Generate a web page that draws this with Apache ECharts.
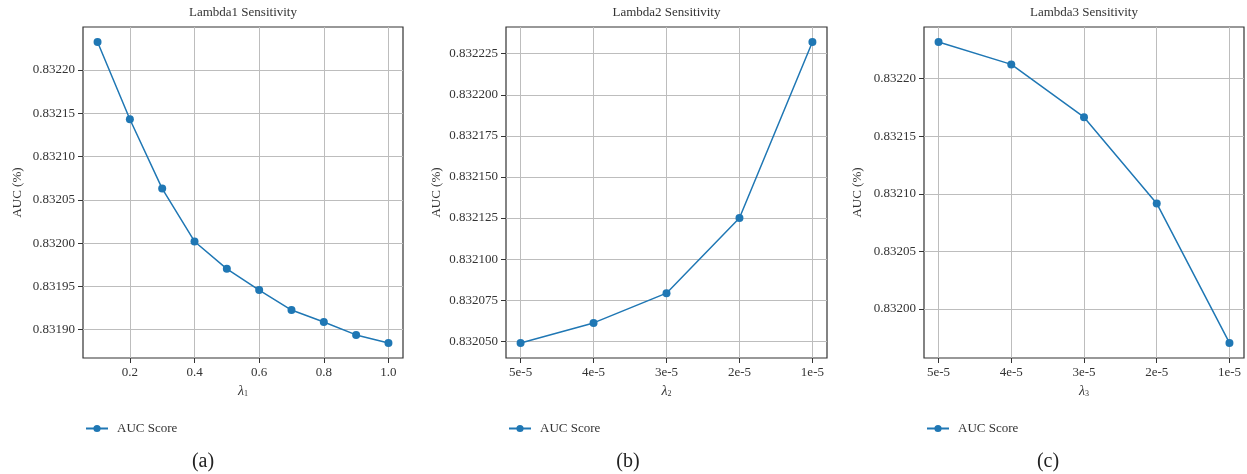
<!DOCTYPE html>
<html>
<head>
<meta charset="utf-8">
<script src="https://cdn.jsdelivr.net/npm/echarts@6/dist/echarts.min.js"></script>
<style>
html,body{margin:0;padding:0;background:#fff;}
#chart{width:1247px;height:474px;}
</style>
</head>
<body>
<div id="chart"></div>
<script>
// ---- data ----
const lambda1Values = [0.1, 0.2, 0.3, 0.4, 0.5, 0.6, 0.7, 0.8, 0.9, 1.0];
const auc1 = [0.8322324, 0.8321431, 0.8320630, 0.8320019, 0.8319703, 0.8319457, 0.8319226, 0.8319089, 0.8318939, 0.8318846];

const lambda2Labels = ['5e-5', '4e-5', '3e-5', '2e-5', '1e-5'];
const auc2 = [0.8320490, 0.8320612, 0.8320793, 0.8321250, 0.8322321];

const lambda3Labels = ['5e-5', '4e-5', '3e-5', '2e-5', '1e-5'];
const auc3 = [0.8322318, 0.8322124, 0.8321665, 0.8320916, 0.8319704];

const xTicks1 = [0.2, 0.4, 0.6, 0.8, 1.0];
const yTicks1 = [0.83190, 0.83195, 0.83200, 0.83205, 0.83210, 0.83215, 0.83220];
const yTicks2 = [0.832050, 0.832075, 0.832100, 0.832125, 0.832150, 0.832175, 0.832200, 0.832225];
const yTicks3 = [0.83200, 0.83205, 0.83210, 0.83215, 0.83220];

const titles = ['Lambda1 Sensitivity', 'Lambda2 Sensitivity', 'Lambda3 Sensitivity'];
const captions = ['(a)', '(b)', '(c)'];
const seriesName = 'AUC Score';
const yName = 'AUC (%)';

// ---- helpers ----
const FONT = 'Liberation Serif';
const BLUE = '#1f77b4';
function pad(arr) {
  const mn = Math.min(...arr), mx = Math.max(...arr);
  const d = (mx - mn) * 0.05;
  return [mn - d, mx + d];
}
const grids = [
  {left: 83, top: 27, width: 320, height: 331},
  {left: 506, top: 27, width: 321, height: 331},
  {left: 924, top: 27, width: 320, height: 331}
];
const nameGaps = [59, 63, 60];

function xAxisBase(i) {
  return {
    gridIndex: i,
    type: 'value',
    position: 'bottom',
    name: '{i|λ}{s|' + (i + 1) + '}',
    nameLocation: 'middle',
    nameGap: 25,
    nameTextStyle: {
      fontFamily: FONT, color: '#333',
      rich: {
        i: {fontFamily: FONT, fontStyle: 'italic', fontSize: 14, color: '#333'},
        s: {fontFamily: FONT, fontSize: 8, color: '#333', padding: [7, 0, 0, 0]}
      }
    },
    axisLine: {show: false, onZero: false},
    axisTick: {show: true, length: 5, lineStyle: {color: '#333', width: 1}},
    axisLabel: {fontFamily: FONT, fontSize: 13, color: '#333', margin: 8},
    splitLine: {show: true, lineStyle: {color: '#bdbdbd', width: 1}}
  };
}
function yAxisBase(i, ticks, digits, data) {
  const ext = pad(data);
  return {
    gridIndex: i,
    type: 'value',
    position: 'left',
    min: ext[0], max: ext[1],
    name: yName,
    nameLocation: 'middle',
    nameGap: nameGaps[i],
    nameRotate: 90,
    nameTextStyle: {fontFamily: FONT, fontSize: 13, color: '#333'},
    axisLine: {show: false, onZero: false},
    axisTick: {show: true, length: 5, customValues: ticks, lineStyle: {color: '#333', width: 1}},
    axisLabel: {fontFamily: FONT, fontSize: 13, color: '#333', margin: 8,
      customValues: ticks, formatter: v => Number(v).toFixed(digits)},
    splitLine: {show: true, lineStyle: {color: '#bdbdbd', width: 1}}
  };
}

const idx2 = lambda2Labels.map((_, i) => i);
const idx3 = lambda3Labels.map((_, i) => i);

const xAxes = [];
{
  const a = xAxisBase(0);
  const e = pad(lambda1Values);
  a.min = e[0]; a.max = e[1];
  a.axisTick.customValues = xTicks1;
  a.axisLabel.customValues = xTicks1;
  a.axisLabel.formatter = v => Number(v).toFixed(1);
  xAxes.push(a);
}
{
  const a = xAxisBase(1);
  const e = pad(idx2);
  a.min = e[0]; a.max = e[1];
  a.axisTick.customValues = idx2;
  a.axisLabel.customValues = idx2;
  a.axisLabel.formatter = v => lambda2Labels[Math.round(v)];
  xAxes.push(a);
}
{
  const a = xAxisBase(2);
  const e = pad(idx3);
  a.min = e[0]; a.max = e[1];
  a.axisTick.customValues = idx3;
  a.axisLabel.customValues = idx3;
  a.axisLabel.formatter = v => lambda3Labels[Math.round(v)];
  xAxes.push(a);
}

const yAxes = [
  yAxisBase(0, yTicks1, 5, auc1),
  yAxisBase(1, yTicks2, 6, auc2),
  yAxisBase(2, yTicks3, 5, auc3)
];

function lineSeries(i, data) {
  return {
    name: seriesName,
    type: 'line',
    xAxisIndex: i, yAxisIndex: i,
    data: data,
    symbol: 'circle',
    symbolSize: 8,
    showSymbol: true,
    lineStyle: {color: BLUE, width: 1.5},
    itemStyle: {color: BLUE},
    emphasis: {disabled: true},
    animation: false
  };
}

const series = [
  lineSeries(0, lambda1Values.map((x, i) => [x, auc1[i]])),
  lineSeries(1, idx2.map((x, i) => [x, auc2[i]])),
  lineSeries(2, idx3.map((x, i) => [x, auc3[i]]))
];

const legendLefts = [80, 503, 921];
const legends = legendLefts.map(l => ({
  left: l, top: 417,
  data: [seriesName],
  selectedMode: false,
  itemWidth: 22, itemHeight: 9,
  itemGap: 10,
  textStyle: {fontFamily: FONT, fontSize: 13, color: '#333', padding: [0, 0, 0, 4]}
}));

const graphics = [];
grids.forEach((g, i) => {
  graphics.push({
    type: 'text',
    x: g.left + g.width / 2, y: 13,
    style: {text: titles[i], font: '13px "' + FONT + '"', fill: '#333', textAlign: 'center', textVerticalAlign: 'middle'}
  });
});
const capX = [203, 628, 1048];
captions.forEach((c, i) => {
  graphics.push({
    type: 'text',
    x: capX[i], y: 462,
    style: {text: c, font: '20px "' + FONT + '"', fill: '#222', textAlign: 'center', textVerticalAlign: 'middle'}
  });
});

const option = {
  backgroundColor: '#fff',
  animation: false,
  grid: grids.map(g => Object.assign({show: true, borderColor: '#333', borderWidth: 1.2, backgroundColor: 'transparent', containLabel: false}, g)),
  xAxis: xAxes,
  yAxis: yAxes,
  legend: legends,
  series: series,
  graphic: graphics
};

const chart = echarts.init(document.getElementById('chart'), null, {renderer: 'canvas'});
chart.setOption(option);
</script>
</body>
</html>
